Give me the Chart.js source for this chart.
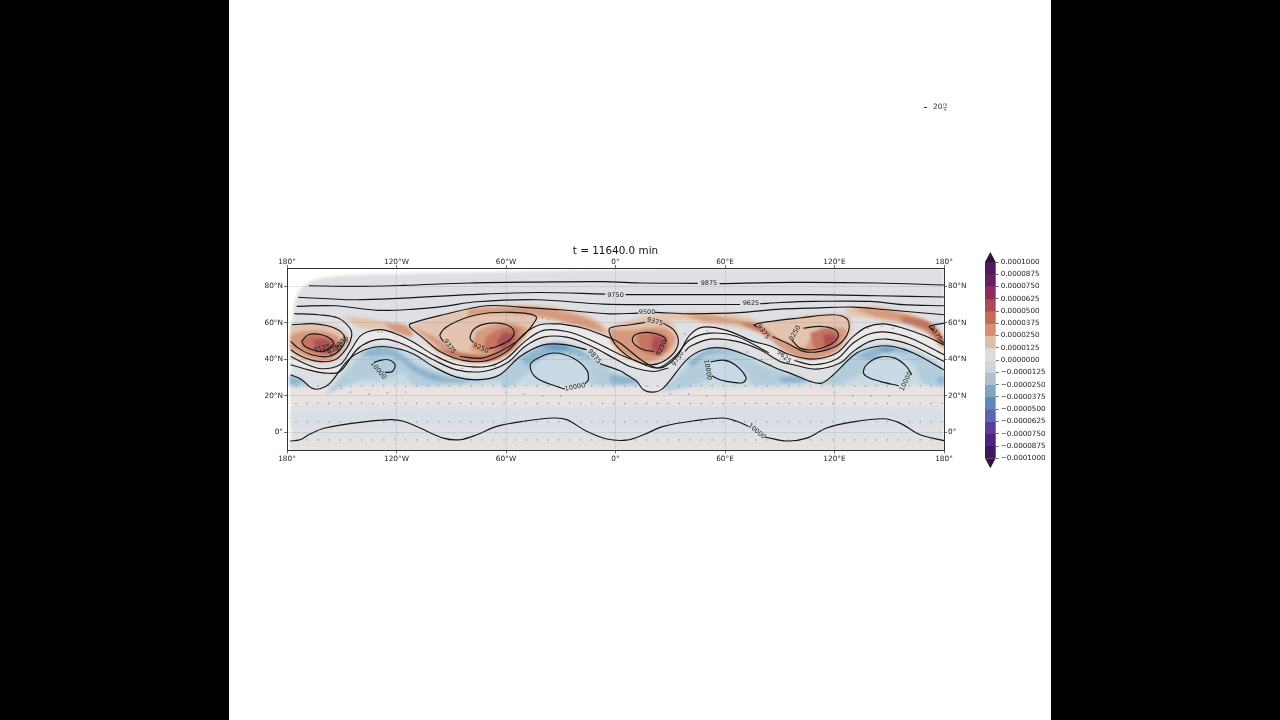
<html>

<head>
    <script src="https://cdn.jsdelivr.net/npm/chart.js@4"></script>
    <style>
        body {
            margin: 0;
            background-color: black;
            overflow: hidden;
        }

        #page {
            position: absolute;
            left: 229px;
            top: 0;
            width: 822px;
            height: 720px;
            background-color: white;
        }

        canvas {
            position: absolute;
            top: 0;
            filter: blur(0.35px);
        }
    </style>
</head>

<body>
    <div id="page"></div>
    <canvas id="mapChart" width="746" height="720" style="left:229px"></canvas>
    <canvas id="barChart" width="76" height="720" style="left:975px"></canvas>
</body>
<script>
    // axes
    var lonTicks = [-180, -120, -60, 0, 60, 120, 180];
    var lonLabels = ['180°', '120°W', '60°W', '0°', '60°E', '120°E', '180°'];
    var latTicks = [0, 20, 40, 60, 80];
    var latLabels = ['0°', '20°N', '40°N', '60°N', '80°N'];

    // geopotential contours, [lon, lat], null = gap under a label
    var c9875 = [[-168, 80.3], [-144, 79.9], [-116, 80.5], [-80, 81.8], [-43, 82.3], [-7, 82.5], [15, 81.8], [45, 81.6], null, [57, 81.4], [97, 82.1], [143, 81.8], [180, 80.7]];
    var c9750 = [[-173.8, 74], [-143.6, 72.6], [-116.2, 73.5], [-79.7, 75.4], [-43, 76.6], [-5.7, 75.7], null, [5.5, 75.4], [61, 75.4], [106.6, 75.4], [143, 74.8], [180, 74.1]];
    var c9625 = [[-174.7, 69], [-153.7, 69.3], [-130, 66.8], [-110, 67.5], [-94.3, 69], [-76, 71.5], [-43, 72.6], [-6.6, 70.2], [30, 70], [68.2, 70], null, [79.2, 70.4], [90.2, 71.1], [108.4, 71.7], [139.5, 71.7], [157.7, 69.9], [180, 69.3]];
    var c9500a = [[-30.4, 59.4], [-41.4, 58.9], [-49.6, 54.3], [-59.6, 44.3], [-70.6, 39.2], [-83.4, 39.4], [-96.2, 44.3], [-105.3, 51.6], [-112.6, 57.6], [-112.6, 59.4], [-94.3, 64.4], [-70.6, 69.3], [-52.3, 68.6], [-30.4, 67.1], [-3, 64.9], [12.5, 65.3], null, [21.7, 65.7], [42.7, 64.9], [70, 65.7], [90.2, 67.5], [106.6, 68], [130.3, 68.6], [148.6, 67.1], [180, 64.4]];
    var c9500b = [[-30.4, 59.4], [-17.6, 57], [-3, 51.6], [2.5, 48.9], [15.3, 38.8], [24.4, 35.2], [33.5, 41.5], [40.8, 53.4], [48.1, 57.6], [60.9, 55.8], [75.5, 49.8], [84.7, 47.4], [95.6, 42.5], [108.4, 40.1], [121.2, 43.4], [130.3, 52.5], [137.6, 57.6], [146.8, 59.4], [157.7, 57], [170.5, 52.5], [180, 47.9]];
    var waveA = [[-178, 41.5], [-170, 37.5], [-161, 34.8], [-151, 37], [-145.5, 44.3], [-140, 52.5], [-135.4, 55.2], [-128, 56.2], [-119, 53.4], [-110, 48.9], [-99.8, 42.5], [-87, 37], [-70.6, 36], [-59.6, 40.6], [-49.6, 49.8], [-39.5, 55.8], [-26.8, 55.2], [-14, 50.7], [2.5, 42.5], [9.8, 39.7], [22.6, 35.2], [31.7, 40.6], [40.8, 50.7], [51.8, 54.3], [66.4, 52.5], [84, 43.5], null, [98, 39.3], [108.4, 37], [121.2, 40.1], [130.3, 48.9], [139.5, 54], [148.6, 54.9], [161.4, 51.6], [180, 42.5]];
    var waveB = [[-178, 37], [-168.3, 34.2], [-159, 32.4], [-151, 33.3], [-141.8, 45.2], [-134.5, 49.8], [-126.3, 51], [-118, 48.9], [-110, 45.2], [-99.8, 39.7], [-87, 34.2], [-72.4, 33.3], [-59.6, 37.9], [-49.6, 47], [-39.5, 52.1], [-26.8, 52.1], [-14.9, 47.9], [2.5, 38.8], [8, 36], [20.7, 33.3], [29, 35.2], null, [38.1, 44.3], [40.8, 47], [51.8, 51], [66.4, 49.8], [79.2, 45.2], [90.2, 38.8], [97.5, 37], [110.2, 34.6], [123, 37.9], [130.3, 44.3], [139.5, 49.8], [148.6, 51], [161.4, 47.9], [180, 38.8]];
    var waveC = [[-178, 31.5], [-172, 28.8], [-166.5, 24.2], [-161.9, 23.8], [-156.4, 26.9], [-146.4, 39.7], [-137.3, 45.2], [-128, 47], [-117, 45.2], [-109.9, 42.5], [-99.8, 36], [-87, 30.2], [-74.2, 28.8], [-63.3, 31.5], [-52.3, 41.5], [-39.5, 47.9], [-26.8, 47.9], [-15.8, 45.2], null, [-8.5, 37.5], [2.5, 33.7], [6.1, 31.5], [11.6, 27.9], [15.3, 23.3], [20.7, 22], [26.2, 24.2], [39, 39.7], [48.1, 45.2], [59.1, 46.1], [73.7, 41.5], [90.2, 34.2], [95.6, 32.4], [106.6, 27.9], [113, 26.9], [119.4, 31.5], [132.2, 43.4], [143.1, 47], [152.2, 47], [163.2, 43.4], [180, 34.2]];

    var lobeA1 = [[-176, 65], [-163, 64.4], [-152, 62.6], [-145.5, 57], [-144.6, 52.5], [-147.3, 46.1], [-153.7, 39.7], [-162.8, 38.8], [-172, 41.5], [-178, 45.2]];
    var lobeA2 = [[-177.4, 58.9], [-164.7, 59.4], [-153.7, 57], [-148.2, 51.6], [-151, 45.2], [-157.4, 41.5], [-166.5, 42.5], [-173.8, 46.1], [-178, 49.8]];
    var lobeA3 = [[-172, 49.8], [-168.3, 53.4], [-161, 53.4], [-155.5, 50.7], [-154.6, 48], [-160, 44.3], [-164.7, 44.8], [-170.1, 47], [-172, 49.8]];
    var lobeB1 = [[-94.3, 49.8], [-96.2, 53.4], [-90.7, 58.9], [-76.1, 64.4], [-57.8, 65.7], [-43.6, 63.5], [-46.8, 57.1], [-54.2, 49.8], [-63.3, 44.3], [-73.3, 40.6], [-85.2, 41.5]];
    var lobeB2 = [[-77.9, 49.2], [-79.7, 51.6], [-77, 57], [-68.8, 59.8], [-59.6, 58.9], [-55.6, 55.2], [-57.8, 50.7], [-65.1, 47], [-69.3, 45.9]];
    var lobeC1 = [[16.2, 60.2], [8, 58.9], [-3, 57.1], [-3, 53.4], [0.7, 47], [9.8, 39.7], [18.9, 37], [26.2, 38.8], [32.6, 44.3], [34.4, 50.7], [31.7, 56.2], [26.2, 59.8]];
    var lobeC2 = [[21, 44.3], [15.3, 45.2], [10.7, 47.9], [9.2, 51], [11.6, 53.8], [18, 54.7], [26.2, 52.5], [28, 49.8]];
    var lobeD1 = [[77.5, 57.7], [75.9, 58.9], [84.7, 60.7], [101.1, 62.6], [119.4, 64.4], [127, 62], [127.6, 55.2], [122.1, 47.9], [112.1, 44.3], [103, 44.3], [93.8, 48.9], [86, 52.5]];
    var lobeD2 = [[103, 57], [112.1, 58], [120.3, 56.2], [122.1, 52.5], [117.5, 47.9], [108.4, 45.2], [101.1, 46.1], [96.5, 50.7]];
    var lobeE1 = [[180, 59.8], [172, 58], [174.5, 55.5], null, [178, 50.5], [180, 48.8]];

    var high1 = [[-126.3, 32.8], [-122.3, 33.3], [-120.8, 37], [-124.5, 39.7], [-129, 39.4], [-132, 38.3]];
    var high2 = [[-16.7, 26.6], [-14.9, 28.8], [-15.8, 34.2], [-23.1, 40.6], [-34, 43.4], [-44.1, 39.7], [-46.8, 36], [-43.2, 29.7], [-32.2, 25.1], [-27.7, 23.6]];
    var high3 = [[52.7, 31], [57.3, 28.8], [64.6, 27.3], [70, 27.3], [71.5, 30.2], [65.5, 37], [59.1, 39.5], [52.2, 38.6]];
    var high4 = [[162.3, 31.5], [159.5, 36], [153.2, 40.6], [144.9, 41.2], [138.5, 37.9], [135.8, 33.3], [137.6, 30.6], [144.9, 27.9], [155, 25.5]];
    var equator = [[-178.3, -4.8], [-172.9, -4.1], [-167.4, -1], [-159.2, 2.3], [-143.6, 5], [-123.5, 6.9], [-116.2, 6], [-107.1, 2.3], [-94.3, -3.2], [-85.2, -4.1], [-76, -1.4], [-65.1, 3.2], [-50.5, 6], [-34, 7.8], [-26.7, 6.9], [-15.8, 0.5], [-4.8, -3.7], [6.1, -4.3], [15.3, -1.4], [26.2, 3.2], [44.5, 6.5], [59.1, 7.8], [66.4, 6], [72.8, 3.2], null, [81.9, -2.6], [93.8, -4.8], [104.8, -3.2], [115.7, 2.3], [128.5, 5.4], [146.8, 7.4], [155.9, 5], [166.9, -1.4], [180, -4.6]];

    // contour labels
    var labelTexts = ['9875', '9750', '9625', '9500', '9375', '9375', '9250', '9375', '9250', '9375', '9250', '9375', '9125', '9250', '9375', '9875', '9750', '9625', '10000', '10000', '10000', '10000', '10000'];
    var labelLons = [51.2, 0, 74.2, 17.3, 21.6, -91, -73.9, 80.9, 25.3, 175.5, 98.4, -149.9, -160.8, -153.7, -149.9, -11.6, 34.3, 92.3, -130, -22.2, 50.5, 159.2, 77.4];
    var labelLats = [81.6, 75.3, 70.4, 65.5, 60.5, 47, 46.1, 55, 46.1, 54, 54.3, 49, 45.8, 45.8, 47.5, 41.5, 40.3, 41.4, 33.9, 24.7, 34.2, 27.8, 0.5];
    var labelAngles = [0, 0, 0, 0, 15, 55, 25, 55, -65, 55, -60, -50, -15, -40, -50, 50, -55, 40, 50, -10, 80, -65, 40];

    // filled vorticity regions
    var fieldOutline = [[-177.8, -10], [-177.8, 48], [-177.3, 61.6], [-174.5, 75.3], [-167.4, 82.5], [-151, 85.8], [-63.3, 88], [46.3, 89.6], [180, 90], [180, -10]];
    var tropicPink = [[-177.8, 26], [180, 26], [180, 15], [-177.8, 15]];
    var tropicBlue = [[-177.8, 13], [180, 13], [180, 3], [-177.8, 3]];
    var equatorPink = [[-177.8, -4], [180, -4], [180, -10], [-177.8, -10]];
    var paleBand = [[-178, 41.5], [-161, 34.8], [-151, 37], [-140, 52.5], [-128, 56.2], [-110, 48.9], [-96.2, 44.3], [-83.4, 39.4], [-70.6, 39.2], [-59.6, 44.3], [-49.6, 54.3], [-41.4, 58.9], [-30.4, 59.4], [-3, 51.6], [15.3, 38.8], [24.4, 35.2], [33.5, 41.5], [40.8, 53.4], [48.1, 57.6], [60.9, 55.8], [84.7, 47.4], [95.6, 42.5], [108.4, 40.1], [121.2, 43.4], [130.3, 52.5], [137.6, 57.6], [146.8, 59.4], [157.7, 57], [180, 47.9], [180, 38.8], [161.4, 47.9], [148.6, 51], [139.5, 49.8], [130.3, 44.3], [123, 37.9], [110.2, 34.6], [97.5, 37], [79.2, 45.2], [66.4, 49.8], [51.8, 51], [40.8, 47], [29, 35.2], [20.7, 33.3], [8, 36], [-14.9, 47.9], [-26.8, 52.1], [-39.5, 52.1], [-49.6, 47], [-59.6, 37.9], [-72.4, 33.3], [-87, 34.2], [-99.8, 39.7], [-118, 48.9], [-126.3, 51], [-134.5, 49.8], [-141.8, 45.2], [-151, 33.3], [-159, 32.4], [-178, 37]];
    var bluePale = [[-178, 31.5], [-172, 28.8], [-168, 26], [-155, 26], [-146.4, 39.7], [-137.3, 45.2], [-128, 47], [-117, 45.2], [-109.9, 42.5], [-99.8, 36], [-87, 30.2], [-74.2, 28.8], [-63.3, 31.5], [-52.3, 41.5], [-39.5, 47.9], [-26.8, 47.9], [-15.8, 45.2], [-8.5, 37.5], [2.5, 33.7], [6.1, 31.5], [11.6, 27.9], [13, 26], [28, 26], [39, 39.7], [48.1, 45.2], [59.1, 46.1], [73.7, 41.5], [90.2, 34.2], [95.6, 32.4], [104, 26], [121, 26], [132.2, 43.4], [143.1, 47], [152.2, 47], [163.2, 43.4], [180, 34.2], [180, 26], [-178, 26]];

    var redLight = [
        [[-178, 58.9], [-161.9, 59.8], [-150, 56.2], [-145.5, 50.7], [-150, 42.5], [-158.2, 37.9], [-171, 39.4], [-178, 43.4]],
        [[-150, 63.5], [-136.3, 62.6], [-116.2, 57.6], [-112.6, 52.5], [-125.4, 56.2], [-140, 57.1], [-144.5, 59.8]],
        [[-112.9, 58.4], [-79.7, 68], [-43.2, 69.9], [-15.8, 64.4], [-4.8, 57.1], [-3, 52.5], [-25, 59.8], [-43.2, 61.7], [-46.8, 54.4], [-61.4, 41.6], [-79.7, 37.5], [-98, 43.4]],
        [[-3, 58.4], [24.4, 64.4], [33.5, 56.2], [31.7, 43.4], [18.9, 37], [6.1, 40.7], [-3, 48.9]],
        [[24.4, 65], [42.7, 65.7], [70, 63.5], [84.7, 57.6], [90.2, 50.7], [82.8, 52.5], [71.9, 56.5], [51.8, 59.5], [39, 61.3], [26.2, 61.3]],
        [[75.5, 58.9], [106.6, 64.4], [127.6, 64.4], [129.4, 56.2], [123, 46.1], [110.2, 40.1], [95.6, 43.4], [82.8, 52.5]],
        [[124.9, 68], [143, 69], [161.4, 65], [175.1, 58.9], [180, 51.6], [180, 45.2], [172.3, 53.4], [161.4, 58.9], [143.1, 61.7], [128.5, 63.9]]
    ];
    var redMid = [
        [[-178, 53.4], [-171, 55.3], [-160, 55.3], [-151, 51.6], [-150, 45.2], [-158, 39.4], [-169, 41.2], [-178, 46]],
        [[-127.2, 59.8], [-114.4, 58.4], [-110.8, 52.5], [-121.7, 55.3]],
        [[-79.7, 67.7], [-43.2, 68.4], [-15.8, 62.6], [-5.7, 55.3], [-19.4, 58.4], [-43.2, 63.9], [-70.6, 65], [-81.5, 63.5]],
        [[-110.8, 57.6], [-98, 48], [-87, 41.6], [-70.6, 38.5], [-57.8, 44.1], [-47.7, 56.5], [-55, 48.9], [-70.6, 43], [-85.2, 43.8], [-98, 51.6]],
        [[-76, 55.3], [-63.3, 59.8], [-54.1, 58.9], [-48.7, 56.2], [-57.8, 46.1], [-70.6, 42.5], [-79.7, 45.2]],
        [[-3, 56.2], [8, 56.2], [26.2, 57.1], [32.6, 51.6], [28, 43.4], [17.1, 38.5], [4.3, 43.4], [-3, 50.7]],
        [[39, 63.9], [51.8, 63.9], [70, 60.8], [82.8, 56.2], [88.3, 51.6], [77.4, 55.8], [64.6, 59.8], [48.1, 60.8]],
        [[79.2, 56.2], [93.8, 44.2], [106.6, 39.8], [121.2, 44.7], [126.3, 56.2], [115.7, 56.5], [106.6, 50.7], [102.9, 46.1], [92, 49.8]],
        [[130.3, 67.5], [143.1, 68], [161.4, 63.9], [175.1, 57.6], [180, 49.8], [180, 46.7], [171.4, 54.4], [157.7, 60.2], [143.1, 63.1]]
    ];
    var redStrong = [
        [[-172, 50.7], [-165.5, 53.4], [-156.4, 51.6], [-151.9, 48], [-156.4, 42.5], [-165.5, 43.4], [-172, 47]],
        [[-100, 47], [-87, 40.5], [-70.6, 38.8], [-57.8, 44.3], [-50, 54], [-55, 49.5], [-70.6, 42.5], [-85, 43.2]],
        [[-70.6, 52.5], [-61.4, 57.1], [-53.2, 56.5], [-55, 48.9], [-65.1, 44.3], [-72.4, 47]],
        [[11.6, 53.4], [20.7, 55.3], [28, 52.5], [28, 45.2], [20.7, 42.5], [13.4, 45.2]],
        [[68.2, 59.8], [77.4, 58.9], [84.7, 53.4], [77.4, 56.2]],
        [[106.6, 54.4], [115.7, 57.1], [122.1, 54.4], [121.2, 48.9], [113.9, 45.2], [108.4, 47]],
        [[155.9, 63.9], [170.5, 60.8], [180, 50.7], [180, 47], [170.5, 56.2], [157.7, 60.8]]
    ];
    var redCore = [
        [[-165.5, 50.7], [-158.2, 50.7], [-153.7, 47], [-158.2, 43.4], [-164.6, 46.1]],
        [[-61.4, 54.4], [-56, 53.8], [-56.9, 48.9], [-62.4, 46.1], [-65.1, 49.8]],
        [[20.7, 52.5], [27.1, 51.6], [27.1, 46.1], [22.6, 42.5], [19.8, 47]],
        [[113.9, 53.4], [120.3, 53.4], [120.3, 48.9], [114.8, 46.1]]
    ];
    var blueLight = [
        [[-178.3, 32.4], [-170.1, 27.9], [-168.3, 25.5], [-178.3, 25.1]],
        [[-159.2, 20.6], [-145.5, 35.2], [-132.7, 46.7], [-119.9, 44.9], [-107.1, 37], [-94.3, 31.5], [-76, 28.8], [-65.1, 30.3], [-52.3, 41.6], [-34, 48.3], [-21.3, 45.2], [-6.6, 37], [-3, 33.9], [-3, 26.6], [-14, 27], [-14.9, 35.2], [-28.6, 42.5], [-41.3, 39.7], [-47.7, 32.4], [-57.8, 25.1], [-61.4, 24.2], [-63.3, 27.9], [-88.8, 26], [-110.8, 26], [-116.2, 32.4], [-121.7, 30.6], [-127.2, 28.8], [-138.2, 28.8], [-149.1, 25.1]],
        [[-3, 33.4], [9.8, 28.8], [13.4, 26], [-3, 26]],
        [[25.3, 22.4], [39, 35.2], [51.8, 46.1], [64.6, 45.2], [79.2, 37], [97.5, 30.6], [110.2, 27], [117.5, 29.7], [130.3, 43.4], [146.8, 48], [165, 44.3], [180, 34.3], [180, 26], [168.7, 27], [162.3, 37.9], [148.6, 42.5], [137.6, 37], [135.8, 32.4], [124.9, 27], [121.2, 25.7], [99.3, 27], [75.5, 26], [71.9, 32.4], [64.6, 38.8], [53.6, 38.8], [50, 34.3], [50, 28.8], [37.2, 23.9]]
    ];
    var blueMid = [
        [[-178.3, 30.2], [-172, 28.8], [-173.8, 26.6], [-178.3, 26]],
        [[-140, 42.5], [-129, 47], [-119.9, 44.3], [-108.9, 36], [-94.3, 30.6], [-79.7, 27.9], [-98, 27.9], [-110.8, 33.4], [-121.7, 41.6], [-134.5, 41.6]],
        [[-52.3, 40.7], [-34, 49.2], [-21.3, 46.1], [-14, 40.7], [-28.6, 43.8], [-39.5, 41.6], [-48.7, 36.5]],
        [[-3, 31.5], [8, 29.7], [12.5, 27.9], [6.1, 26.6], [-3, 27]],
        [[39, 37.9], [51.8, 45.2], [68.2, 42.5], [60.9, 43.4], [50, 42.5], [42.7, 36.1]],
        [[88.3, 29.7], [101.1, 30.6], [104.8, 27.9], [92, 27]],
        [[132.2, 41.6], [146.8, 47], [161.4, 43.4], [148.6, 44.3], [139.5, 39.7]],
        [[176, 29.7], [180, 30.6], [180, 27], [176.9, 26.6]]
    ];
    var blueStrong = [
        [[-41.3, 47.4], [-28.6, 48], [-25, 45.2], [-35.9, 45.2]],
        [[143.1, 46.1], [154.1, 46.1], [148.6, 43.8]]
    ];

    // small wind arrows, seen as rows of dots
    var dotLons = [-175, -169, -163, -157, -151, -145, -139, -133, -127, -121, -115, -109, -103, -97, -91, -85, -79, -73, -67, -61, -55, -49, -43, -37, -31, -25, -19, -13, -7, -1, 5, 11, 17, 23, 29, 35, 41, 47, 53, 59, 65, 71, 77, 83, 89, 95, 101, 107, 113, 119, 125, 131, 137, 143, 149, 155, 161, 167, 173, 179];
    var dotRowLats = [25.4, 15.8, 5.7, -4.2];
    // the other ones, here and there
    var specks = [[-90, 35], [-84, 35], [-78, 35.5], [-72, 35.5], [-66, 36], [-25, 43], [-20, 42], [-15, 41], [-130, 55], [-128, 55], [-40, 63], [-37, 62], [38, 54], [44, 56], [50, 55.5], [138, 57], [146, 58], [152, 57], [72, 44], [80, 40], [85, 37], [-110, 35], [-105, 33], [-100, 30], [-150, 24], [-145, 22], [-135, 21], [-125, 21.5], [-115, 22], [-60, 22], [-50, 21], [-40, 20], [-30, 20], [30, 21], [40, 21], [50, 20], [60, 20], [120, 22], [130, 20], [140, 20], [150, 20]];

    // colorbar
    var barEdges = [0.0001, 0.0000875, 0.000075, 0.0000625, 0.00005, 0.0000375, 0.000025, 0.0000125, 0, -0.0000125, -0.000025, -0.0000375, -0.00005, -0.0000625, -0.000075, -0.0000875, -0.0001];
    var barColors = ['#4b1b5c', '#6b1e5e', '#8c2d5c', '#ac4a58', '#c56a55', '#d2916f', '#dcbfa5', '#dedcde', '#d2d4dc', '#abc3cd', '#80a6be', '#5f87b9', '#5a65b4', '#5a3ca0', '#50237d', '#3c195a'];

    function toPoints(list) {
        return list.map(function (p) {
            return p ? { x: p[0], y: p[1] } : { x: null, y: null };
        });
    }

    var datasets = [];

    // fill layers first in the list, they get the highest order
    var fillLayers = [
        ['#dfe0e4', [fieldOutline]],
        ['#e8e2e1', [tropicPink]],
        ['#dadfe6', [tropicBlue]],
        ['#e5e0e2', [equatorPink]],
        ['#c9dae4', [bluePale]],
        ['#ebe9e7', [paleBand]],
        ['#e4c4ae', redLight],
        ['#d69a7e', redMid],
        ['#c4745f', redStrong],
        ['#ae4f55', redCore],
        ['#b4cddc', blueLight],
        ['#8fb5cf', blueMid],
        ['#6f9cc2', blueStrong]
    ];
    var fillCount = 0;
    fillLayers.forEach(function (layer) {
        layer[1].forEach(function (shape) {
            datasets.push({
                data: toPoints(shape),
                showLine: true,
                fill: 'shape',
                backgroundColor: layer[0],
                borderWidth: 0,
                pointRadius: 0,
                tension: 0.3,
                order: 1000 - fillCount
            });
            fillCount++;
        });
    });
    var lastFillIndex = fillCount - 1;

    var speckRows = dotRowLats.map(function (lat) {
        return dotLons.map(function (lon) { return { x: lon, y: lat }; });
    });
    speckRows.push(toPoints(specks));
    speckRows.forEach(function (row) {
        datasets.push({
            data: row,
            pointRadius: 0.7,
            pointBackgroundColor: '#85858e',
            pointBorderWidth: 0,
            order: 2
        });
    });

    var contours = [c9875, c9750, c9625, c9500a, c9500b, waveA, waveB, waveC, lobeA1, lobeA2, lobeA3, lobeB1, lobeB2, lobeC1, lobeC2, lobeD1, lobeD2, lobeE1, high1, high2, high3, high4, equator];
    contours.forEach(function (line) {
        datasets.push({
            data: toPoints(line),
            showLine: true,
            fill: false,
            borderColor: '#15151a',
            borderWidth: 1.15,
            pointRadius: 0,
            tension: 0.35,
            order: 1
        });
    });

    // the field looks soft in the reference, blur only the filled layers
    var softFill = {
        id: 'softFill',
        beforeDatasetsDraw: function (chart) {
            chart.ctx.filter = 'blur(1.4px)';
        },
        afterDatasetDraw: function (chart, args) {
            if (args.index === lastFillIndex) chart.ctx.filter = 'none';
        }
    };

    var mapTexts = {
        id: 'mapTexts',
        afterDraw: function (chart) {
            var ctx = chart.ctx;
            ctx.save();
            ctx.fillStyle = '#222';
            ctx.font = '6.5px "DejaVu Sans"';
            ctx.textAlign = 'center';
            ctx.textBaseline = 'middle';
            for (var i = 0; i < labelTexts.length; i++) {
                ctx.save();
                ctx.translate(chart.scales.x.getPixelForValue(labelLons[i]), chart.scales.y.getPixelForValue(labelLats[i]));
                ctx.rotate(labelAngles[i] * Math.PI / 180);
                ctx.fillText(labelTexts[i], 0, 0);
                ctx.restore();
            }
            // quiver key
            ctx.fillStyle = '#333';
            ctx.fillRect(695, 107, 3, 1);
            ctx.font = '7.4px "DejaVu Sans"';
            ctx.textAlign = 'left';
            ctx.fillText('20', 704, 107.5);
            ctx.font = '4.5px "DejaVu Sans"';
            ctx.fillText('m', 714, 105);
            ctx.fillText('s', 715, 110);
            ctx.fillRect(714, 107, 4, 0.5);
            ctx.restore();
        }
    };

    function axisTicks(values, labels, pad) {
        return {
            display: true,
            autoSkip: false,
            maxRotation: 0,
            padding: pad,
            color: '#222',
            font: { family: 'DejaVu Sans', size: 7.35 },
            callback: function (value) { return labels[values.indexOf(value)]; }
        };
    }

    function setTicks(values) {
        return function (scale) {
            scale.ticks = values.map(function (v) { return { value: v }; });
        };
    }

    function axis(position, values, labels, size, grid, pad) {
        var vertical = position === 'left' || position === 'right';
        return {
            type: 'linear',
            position: position,
            min: vertical ? -10 : -180,
            max: vertical ? 90 : 180,
            afterBuildTicks: setTicks(values),
            afterFit: function (scale) {
                if (vertical) scale.width = size; else scale.height = size;
            },
            ticks: axisTicks(values, labels, pad),
            grid: {
                drawOnChartArea: grid,
                color: 'rgba(130,130,135,0.25)',
                tickColor: '#333',
                tickLength: 3,
                tickWidth: 0.7,
                lineWidth: 0.8,
                z: 1
            },
            border: { display: true, color: '#333', width: 1, z: 2 }
        };
    }

    new Chart(document.getElementById('mapChart'), {
        type: 'scatter',
        data: { datasets: datasets },
        options: {
            responsive: false,
            animation: false,
            layout: { padding: { left: 0, right: 0, top: 0, bottom: 249.5 } },
            plugins: {
                legend: { display: false },
                tooltip: { enabled: false },
                title: {
                    display: true,
                    text: 't = 11640.0 min',
                    color: '#111',
                    fullSize: false,
                    font: { family: 'DejaVu Sans', size: 10.4, weight: 'normal' },
                    padding: { top: 245, bottom: 0 }
                }
            },
            scales: {
                x: axis('bottom', lonTicks, lonLabels, 20, true, 1),
                x2: axis('top', lonTicks, lonLabels, 10.52, false, -1.2),
                y: axis('left', latTicks, latLabels, 58, true, 1),
                y2: axis('right', latTicks, latLabels, 31, false, 1)
            }
        },
        plugins: [softFill, mapTexts]
    });

    // colorbar
    var barSets = barColors.map(function (color, i) {
        return {
            data: [[barEdges[i + 1], barEdges[i]]],
            backgroundColor: color,
            grouped: false,
            barPercentage: 1,
            categoryPercentage: 1
        };
    });

    var barTips = {
        id: 'barTips',
        afterDatasetsDraw: function (chart) {
            var ctx = chart.ctx;
            var area = chart.chartArea;
            var mid = (area.left + area.right) / 2;
            ctx.fillStyle = '#301440';
            ctx.beginPath();
            ctx.moveTo(area.left, area.top);
            ctx.lineTo(mid, area.top - 10);
            ctx.lineTo(area.right, area.top);
            ctx.fill();
            ctx.fillStyle = '#2f143b';
            ctx.beginPath();
            ctx.moveTo(area.left, area.bottom);
            ctx.lineTo(mid, area.bottom + 10);
            ctx.lineTo(area.right, area.bottom);
            ctx.fill();
        }
    };

    new Chart(document.getElementById('barChart'), {
        type: 'bar',
        data: { labels: [''], datasets: barSets },
        options: {
            responsive: false,
            animation: false,
            layout: { padding: { left: 10, right: 0, top: 262, bottom: 261.7 } },
            plugins: { legend: { display: false }, tooltip: { enabled: false } },
            scales: {
                x: { display: false },
                y: {
                    position: 'right',
                    min: -0.0001,
                    max: 0.0001,
                    afterBuildTicks: function (scale) {
                        scale.ticks = barEdges.map(function (v) { return { value: v }; });
                    },
                    afterFit: function (scale) { scale.width = 55.3; },
                    ticks: {
                        autoSkip: false,
                        padding: 2,
                        color: '#222',
                        font: { family: 'DejaVu Sans', size: 7.2 },
                        callback: function (value) {
                            return (value < 0 ? '\u2212' : '') + Math.abs(value).toFixed(7);
                        }
                    },
                    grid: { drawOnChartArea: false, tickLength: 3, tickColor: '#333', tickWidth: 0.7 },
                    border: { display: false }
                }
            }
        },
        plugins: [barTips]
    });
</script>

</html>
